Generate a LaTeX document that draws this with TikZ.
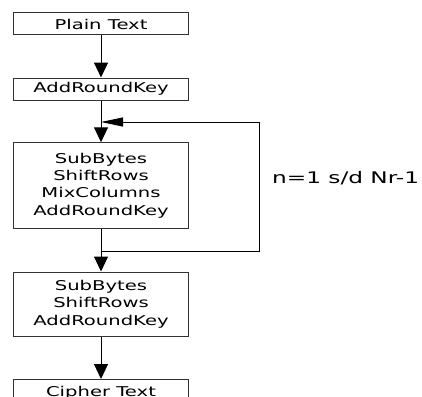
\documentclass[tikz,border=0pt]{standalone}
\usepackage{fontspec}
\setmainfont{DejaVu Sans}[FakeStretch=1.45]
\usetikzlibrary{arrows.meta}
\tikzset{
  blk/.style={draw=black!80, line width=1pt, minimum width=175pt, inner sep=0pt,
    align=center, font=\fontsize{13.5}{17.2}\selectfont, text=black},
  conn/.style={draw=black, line width=1pt},
  downhead/.style={-{Triangle[width=14pt,length=15pt]}},
  lefthead/.style={-{Triangle[width=9pt,length=22pt]}},
}
\begin{document}
\begin{tikzpicture}[x=1pt,y=-1pt]
\useasboundingbox (0,0) rectangle (422,396);
\node[blk, minimum height=22pt] (pt) at (101,24) {Plain Text};
\node[blk, minimum height=22pt] (ark) at (101,89) {AddRoundKey};
\node[blk, minimum height=85.5pt] (rnd) at (101,185.5) {SubBytes\\ShiftRows\\MixColumns\\AddRoundKey};
\node[blk, minimum height=64.5pt] (fin) at (101,304.25) {SubBytes\\ShiftRows\\AddRoundKey};
\node[blk, minimum height=27pt, anchor=north] (ct) at (101,379) {Cipher Text};
\node[font=\fontsize{16}{19}\selectfont, anchor=west, inner sep=0pt, text=black] (lbl) at (272,178) {n=1 s/d Nr-1};
\coordinate (tj) at (101,122);
\coordinate (bj) at (101,251);
\coordinate (br) at (259,251);
\coordinate (tr) at (259,122);
\draw[conn, downhead] (pt) -- (ark);
\draw[conn, downhead] (ark) -- (rnd);
\draw[conn, downhead] (rnd) -- (fin);
\draw[conn, downhead] (fin) -- (ct);
\draw[conn, lefthead] (bj) -- (br) -- (tr) -- (tj);
\end{tikzpicture}
\end{document}
